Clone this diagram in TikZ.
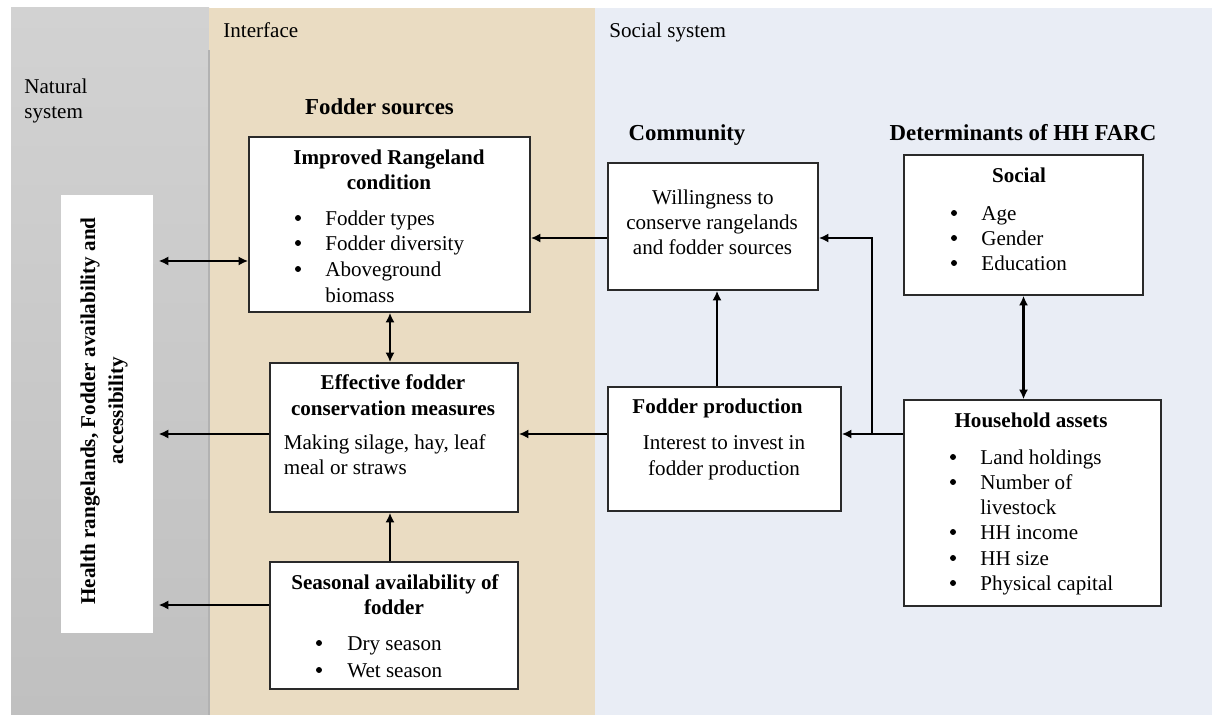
\documentclass[tikz,border=0pt]{standalone}
\usepackage{fontspec}
\setmainfont{Liberation Serif}
\usetikzlibrary{fit,arrows.meta}
\definecolor{greyA}{HTML}{C0C0C0}
\definecolor{greyB}{HTML}{D2D2D2}
\definecolor{beigebg}{HTML}{EADCC2}
\definecolor{bluebg}{HTML}{E9EDF5}
\definecolor{boxline}{HTML}{2A2A2A}
\begin{document}
\begin{tikzpicture}[x=0.02cm,y=-0.02cm,
  box/.style={draw=boxline, line width=0.9pt, fill=white, inner sep=0pt},
  arr/.style={line width=1.3pt, -{Latex[length=5.5pt,width=5.2pt]}},
  dbl/.style={line width=1.3pt, {Latex[length=5.5pt,width=5.2pt]}-{Latex[length=5.5pt,width=5.2pt]}},
  txt/.style={inner sep=0pt, font=\fontsize{12}{14}\selectfont, text height=10.2pt, text depth=1.2pt},
  btxt/.style={txt, font=\fontsize{12}{14}\selectfont\bfseries},
  dot/.style={circle, fill=black, inner sep=0pt, minimum size=3.4pt},
  head/.style={inner sep=0pt, font=\fontsize{13}{15}\selectfont\bfseries, text height=10pt, text depth=1.8pt}]
\useasboundingbox (0,0) rectangle (1212,715);
% background regions
\fill[white] (0,0) rectangle (1212,715);
\shade[top color=greyB, bottom color=greyA] (11,8) rectangle (209,715);
\fill[beigebg] (209,8) rectangle (595,715);
\fill[bluebg] (595,8) rectangle (1212,715);
\draw[line width=0.8pt, color=black!30] (209,50) -- (209,715);
% region labels
\node[txt,anchor=west] (lbint) at (223,30) {Interface};
\node[txt,anchor=west] (lbsoc) at (609,30) {Social system};
\node[txt,anchor=west] (lbnat1) at (24,86) {Natural};
\node[txt,anchor=west] (lbnat2) at (24,111) {system};
% headings
\node[head] (hfs) at (379.5,107) {Fodder sources};
\node[head] (hcom) at (687,133) {Community};
\node[head] (hdet) at (1023,133) {Determinants of HH FARC};
% boxes
\node[fill=white, inner sep=0pt, fit={(61,195) (153,633)}] (health) {};
\node[box, fit={(249,137) (530,312)}] (ir) {};
\node[box, fit={(270,363) (518,512)}] (ef) {};
\node[box, fit={(270,562) (518,689)}] (se) {};
\node[box, fit={(608,163) (818,290)}] (wi) {};
\node[box, fit={(608,387) (841,511)}] (fp) {};
\node[box, fit={(904,155) (1143,295)}] (so) {};
\node[box, fit={(904,400) (1161,606)}] (ha) {};
% health text
\node[rotate=90, align=center, inner sep=0pt, font=\fontsize{12}{15.9}\selectfont\bfseries] (htxt) at (104,411)
  {Health rangelands, Fodder availability and\\accessibility};
% improved rangeland
\node[btxt] (irh1) at (389,157) {Improved Rangeland};
\node[btxt] (irh2) at (389,182) {condition};
\foreach \yy [count=\i] in {218,243,269} \node[dot] (irb\i) at (298,\yy) {};
\foreach \t/\yy [count=\i] in {Fodder types/218, Fodder diversity/243, Aboveground/269, biomass/295}
  \node[txt,anchor=west] (irt\i) at (325,\yy) {\t};
% effective
\node[btxt] (efh1) at (393,382) {Effective fodder};
\node[btxt] (efh2) at (393,408) {conservation measures};
\node[txt,anchor=west] (eft1) at (283.5,442) {Making silage, hay, leaf};
\node[txt,anchor=west] (eft2) at (283.5,467) {meal or straws};
% seasonal
\node[btxt] (seh1) at (395,582) {Seasonal availability of};
\node[btxt] (seh2) at (394,607) {fodder};
\foreach \yy [count=\i] in {643,670} \node[dot] (seb\i) at (319,\yy) {};
\foreach \t/\yy [count=\i] in {Dry season/643, Wet season/670}
  \node[txt,anchor=west] (set\i) at (347,\yy) {\t};
% willingness
\node[txt] (wit1) at (713,197) {Willingness to};
\node[txt] (wit2) at (712,222) {conserve rangelands};
\node[txt] (wit3) at (712.5,247) {and fodder sources};
% fodder production
\node[btxt] (fph) at (717.5,406) {Fodder production};
\node[txt] (fpt1) at (724,442) {Interest to invest in};
\node[txt] (fpt2) at (724,468) {fodder production};
% social
\node[btxt] (soh) at (1019,175) {Social};
\foreach \yy [count=\i] in {213,238,263} \node[dot] (sob\i) at (954,\yy) {};
\foreach \t/\yy [count=\i] in {Age/213, Gender/238, Education/263}
  \node[txt,anchor=west] (sot\i) at (981,\yy) {\t};
% household
\node[btxt] (hah) at (1031,420) {Household assets};
\foreach \yy [count=\i] in {457,482,532,558,583} \node[dot] (hab\i) at (953,\yy) {};
\foreach \t/\yy [count=\i] in {Land holdings/457, Number of/482, livestock/507, HH income/532, HH size/558, Physical capital/583}
  \node[txt,anchor=west] (hat\i) at (980,\yy) {\t};
% helper coordinates
\coordinate (yA) at (0,261);
\coordinate (yB) at (0,434);
\coordinate (yC) at (0,605);
\coordinate (yD) at (0,238);
\coordinate (xA) at (390,0);
\coordinate (xB) at (717,0);
\coordinate (xC) at (1023.5,0);
\coordinate (jn) at (872,434);
% connectors
\draw[dbl, shorten <=3pt] (health.east |- yA) -- (ir.west |- yA);
\draw[dbl] (ir.south -| xA) -- (ef.north -| xA);
\draw[arr, shorten >=3pt] (ef.west |- yB) -- (health.east |- yB);
\draw[arr, shorten >=3pt] (se.west |- yC) -- (health.east |- yC);
\draw[arr] (se.north -| xA) -- (ef.south -| xA);
\draw[arr] (wi.west |- yD) -- (ir.east |- yD);
\draw[arr] (fp.west |- yB) -- (ef.east |- yB);
\draw[arr] (fp.north -| xB) -- (wi.south -| xB);
\draw[arr] (ha.west |- yB) -- (fp.east |- yB);
\draw[arr] (jn) |- (wi.east |- yD);
\draw[dbl] (so.south -| xC) -- (ha.north -| xC);
\end{tikzpicture}
\end{document}
